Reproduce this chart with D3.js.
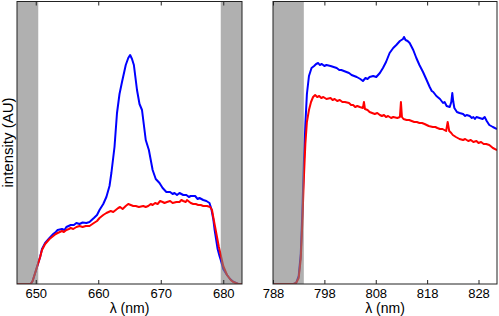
<!DOCTYPE html>
<html><head><meta charset="utf-8">
<script src="https://cdn.jsdelivr.net/npm/d3@7"></script>
<style>body{margin:0;background:#fff}svg{display:block}text{font-family:"Liberation Sans",Arial,sans-serif;fill:#000}</style>
</head><body><svg id="c" width="499" height="316"></svg>
<script>
// ---- data (intensity in arbitrary units) ----
const leftTicks = [650, 660, 670, 680];
const rightTicks = [788, 798, 808, 818, 828];
const leftBands = [[646, 650.4], [679.6, 684]];
const rightBands = [[787, 794]];

const leftBlue = [[647,0],[648,0],[649.2,0],[649.5,3],[649.8,9],[650.1,15],[650.4,21],[650.7,27],[651.0,35],[651.5,41],[652.2,46],[652.8,50],[653.2,52],[653.5,54],[654.2,55],[654.6,54],[654.9,57],[655.6,59],[656.1,59],[656.5,61],[657.0,60],[657.5,61.5],[658.1,61],[658.6,62],[659.3,66],[659.8,69],[660.2,74],[660.8,80],[661.3,87],[661.8,98],[662.1,111],[662.6,137],[663.0,171],[663.4,190],[663.8,202],[664.4,219],[664.8,226],[665.1,229],[665.4,225],[665.7,219],[666.2,194],[666.6,180],[667.0,174],[667.6,144],[668.1,134],[668.4,124],[668.7,114],[669.2,105],[669.8,101],[670.3,96],[670.9,92],[671.5,92],[671.9,90],[672.2,91],[672.6,89],[673.0,91],[673.6,89],[674.1,89],[674.5,87],[674.8,88],[675.5,88],[675.9,85],[676.2,86],[676.8,84],[677.3,83],[677.8,81],[678.1,75],[678.4,65],[678.6,55],[678.9,43],[679.1,35],[679.4,28],[679.6,24],[680.0,15],[680.6,9],[681.1,5],[681.6,2.3],[682.4,0],[683,0]];

const leftRed = [[647,0],[648,0],[649.2,0],[649.5,3],[649.8,9],[650.1,15],[650.4,21],[650.7,27],[651.0,34],[651.5,40],[652.2,45],[652.8,48],[653.2,50],[653.5,51],[654.2,53],[654.5,52],[654.9,54],[655.3,55],[655.6,56],[656.0,55],[656.5,57],[657.0,58],[657.5,57],[658.0,58],[658.6,58],[659.3,61],[659.8,63],[660.2,66],[660.8,69],[661.3,71],[662.0,73],[662.4,72],[662.8,74],[663.2,76],[663.5,77],[663.9,75],[664.4,78],[664.8,80],[665.2,79],[665.6,78],[666.0,78],[666.5,77],[667.2,78],[667.6,77],[668.0,78],[668.4,80],[668.7,79],[669.1,81],[669.5,80],[669.9,83],[670.3,82],[670.6,81],[671.0,82],[671.5,83],[671.9,81],[672.5,82],[673.0,82],[673.3,84],[673.6,83],[674.0,82],[674.2,84],[674.8,81],[675.2,80],[675.6,80],[676.0,79],[676.4,79],[676.8,78],[677.4,78],[677.9,77],[678.2,74],[678.4,67],[678.7,57],[679.0,47],[679.3,37],[679.6,29],[680.0,18],[680.6,9],[681.2,4],[681.6,2],[682.4,0],[683,0]];

const rightBlue = [[788,0],[792.0,0],[792.5,1],[793.0,8],[793.4,30],[793.7,70],[794.0,120],[794.3,160],[794.6,190],[795.0,208],[795.5,216],[796.0,218],[796.4,220],[796.8,221],[797.1,219],[797.5,220],[798.0,218],[798.4,219],[799.2,218],[799.8,217],[800.4,216],[800.9,214],[801.3,214],[802.3,212],[802.8,211],[803.3,209],[803.8,208],[804.3,207],[805.0,205],[805.5,203],[806.0,206],[806.4,205],[806.8,207],[807.5,208],[808.1,207],[808.8,211],[809.4,216],[810.0,222],[810.7,231],[811.4,236],[812.0,239],[812.7,243],[813.3,245],[813.5,247],[813.8,244],[814.2,243],[814.6,241],[815.3,234],[815.9,226],[816.5,219],[817.2,212],[817.9,204],[818.5,197],[818.9,193],[819.2,192],[819.8,188],[820.5,185],[821.1,181],[821.4,182],[821.8,178],[822.4,177],[822.7,182],[822.9,191],[823.1,182],[823.3,176],[823.8,172],[824.3,171],[825.0,170],[825.4,168],[825.7,169],[826.3,168],[826.7,166],[827.0,167],[827.3,165],[827.6,167],[828.2,166],[828.8,165],[829.2,167],[829.6,163],[830.1,159],[830.8,157],[831.6,155]];

const rightRed = [[788,0],[792.0,0],[792.5,1],[793.0,6],[793.4,25],[793.7,60],[794.0,105],[794.3,140],[794.6,162],[795.0,174],[795.4,182],[795.8,187],[796.2,189],[796.6,187],[797.0,188],[797.4,186],[797.8,187],[798.4,185],[799.2,186],[799.6,184],[800.0,185],[800.5,183],[801.0,184],[801.5,182],[802.0,182],[802.8,181],[803.2,179],[803.6,179],[804.0,177],[804.4,178],[804.9,177],[805.5,176],[805.7,182],[805.9,175],[806.4,174],[806.8,172],[807.3,171],[807.8,170],[808.3,171],[808.8,169],[809.2,168],[809.6,169],[810.0,167],[810.4,168],[811.0,166],[811.4,167],[812.2,166],[812.7,167],[812.9,182],[813.1,167],[813.4,165],[814.0,164],[814.5,164],[815.0,163],[815.5,162],[816.0,162],[816.5,161],[817.0,161],[817.5,160],[818.3,158],[819.1,157],[819.6,157],[820.0,156],[820.5,155],[821.0,155],[821.7,153],[822.0,162],[822.3,153],[822.7,151],[823.0,149],[823.6,147],[824.3,145],[825.0,144],[825.4,145],[826.0,143],[826.5,144],[827.0,142],[827.6,143],[828.0,141],[828.5,142],[829.0,140],[829.5,140],[830.1,139],[830.8,136],[831.6,134]];

// ---- drawing ----
const svg = d3.select("#c");
const yTop = 1.5, yBottom = 284;
const y = d3.scaleLinear().domain([0, 282.5]).range([yBottom, yTop]);

function panel(id, x0, x1, domain, ticks, bands, blue, red) {
  const x = d3.scaleLinear().domain(domain).range([x0, x1]);
  const g = svg.append("g");
  g.append("clipPath").attr("id", id).append("rect")
    .attr("x", x0).attr("y", yTop).attr("width", x1 - x0).attr("height", yBottom - yTop);
  const line = d3.line().x(d => x(d[0])).y(d => y(d[1]));
  const pg = g.append("g").attr("clip-path", `url(#${id})`);
  pg.append("path").datum(blue).attr("d", line).attr("fill", "none")
    .attr("stroke", "#0000ff").attr("stroke-width", 2).attr("stroke-linejoin", "round");
  pg.append("path").datum(red).attr("d", line).attr("fill", "none")
    .attr("stroke", "#ff0000").attr("stroke-width", 2).attr("stroke-linejoin", "round");
  pg.selectAll("rect.band").data(bands).join("rect").attr("class", "band")
    .attr("x", d => x(d[0])).attr("width", d => x(d[1]) - x(d[0]))
    .attr("y", yTop).attr("height", yBottom - yTop)
    .attr("fill", "#808080").attr("fill-opacity", 0.62);
  const xb = d3.axisBottom(x).tickValues(ticks).tickSizeInner(-4).tickSizeOuter(0).tickPadding(5).tickFormat(d3.format("d"));
  const ab = g.append("g").attr("transform", `translate(0,${yBottom})`).call(xb);
  ab.selectAll("text").attr("font-size", 13).attr("font-family", '"Liberation Sans",Arial,sans-serif');
  const xt = d3.axisTop(x).tickValues(ticks).tickSizeInner(-4).tickSizeOuter(0).tickFormat("");
  g.append("g").attr("transform", `translate(0,${yTop})`).call(xt);
  g.selectAll(".domain").remove();
  g.selectAll(".tick line").attr("stroke", "#222");
  g.append("rect").attr("x", x0).attr("y", yTop).attr("width", x1 - x0).attr("height", yBottom - yTop)
    .attr("fill", "none").attr("stroke", "#222").attr("stroke-width", 1);
  g.append("text").attr("x", (x0 + x1) / 2).attr("y", 313).attr("text-anchor", "middle")
    .attr("font-size", 14).text("λ (nm)");
}

panel("cl", 17, 242, [647, 683], leftTicks, leftBands, leftBlue, leftRed);
panel("cr", 273, 497, [788, 831.6], rightTicks, rightBands, rightBlue, rightRed);

svg.append("text").attr("transform", "translate(12.5,142.5) rotate(-90)")
  .attr("text-anchor", "middle").attr("font-size", 15).text("intensity (AU)");
</script></body></html>
